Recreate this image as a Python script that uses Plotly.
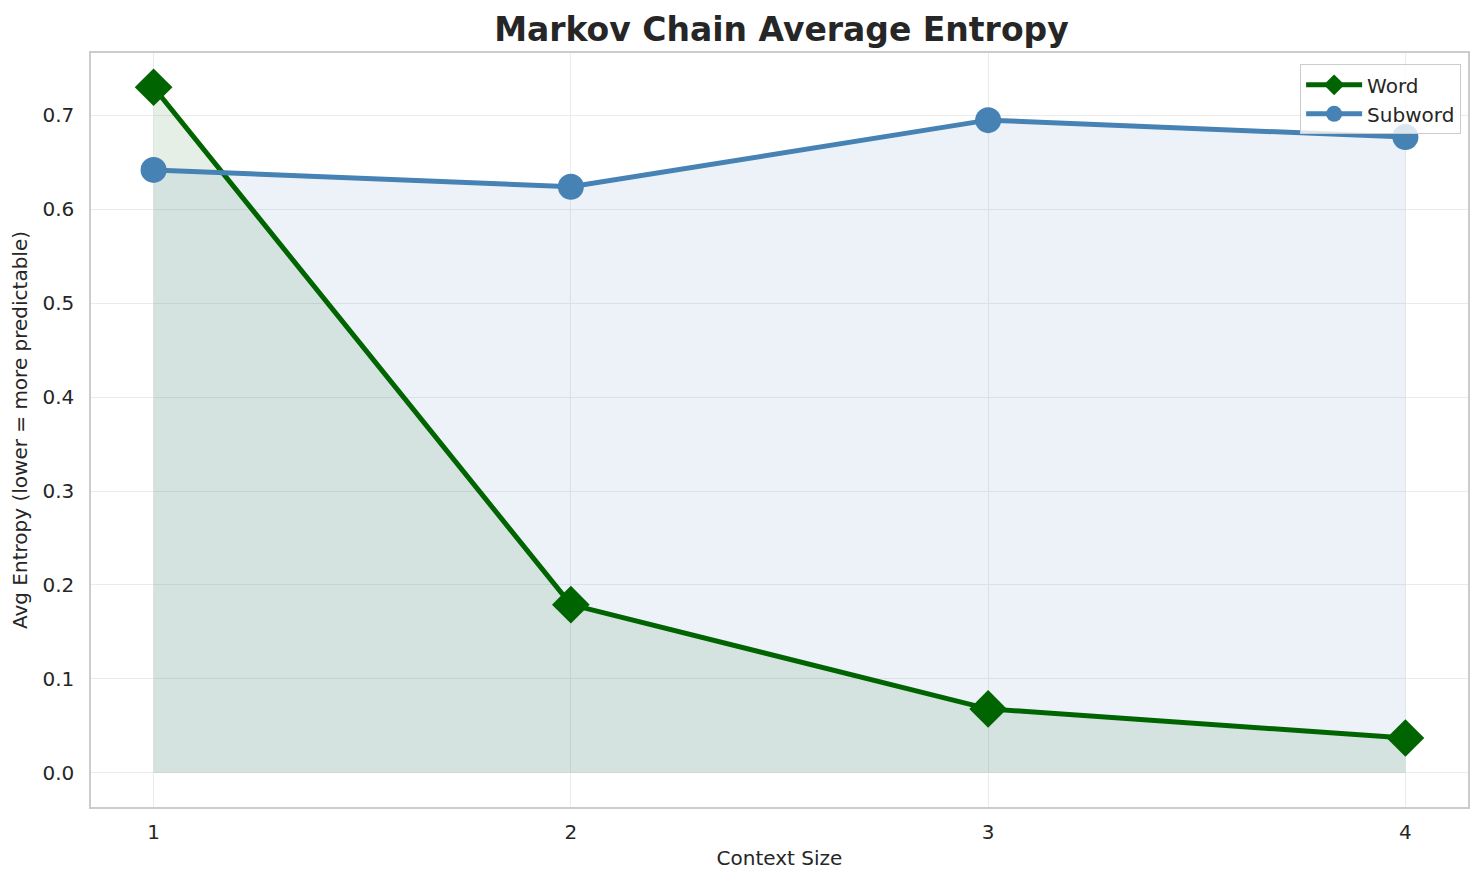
import plotly.graph_objects as go

# Markov chain average entropy by context size
context_sizes = [1, 2, 3, 4]
word_entropy = [0.730, 0.179, 0.068, 0.037]
subword_entropy = [0.642, 0.624, 0.695, 0.677]
y_ticks = [0.0, 0.1, 0.2, 0.3, 0.4, 0.5, 0.6, 0.7]

fig = go.Figure()

# shaded areas under each line
fig.add_trace(go.Scatter(x=context_sizes, y=word_entropy, fill="tozeroy",
                         fillcolor="rgba(0,100,0,0.1)", mode="none",
                         showlegend=False, hoverinfo="skip"))
fig.add_trace(go.Scatter(x=context_sizes, y=subword_entropy, fill="tozeroy",
                         fillcolor="rgba(70,130,180,0.1)", mode="none",
                         showlegend=False, hoverinfo="skip"))

fig.add_trace(go.Scatter(x=context_sizes, y=word_entropy, name="Word",
                         mode="lines+markers",
                         line=dict(color="darkgreen", width=5),
                         marker=dict(symbol="diamond", size=29, color="darkgreen")))
fig.add_trace(go.Scatter(x=context_sizes, y=subword_entropy, name="Subword",
                         mode="lines+markers",
                         line=dict(color="steelblue", width=5),
                         marker=dict(symbol="circle", size=26, color="steelblue")))

fig.update_xaxes(title_text="Context Size", range=[0.85, 4.15],
                 tickvals=context_sizes, ticktext=["1", "2", "3", "4"],
                 showgrid=True, gridcolor="#ebebeb", zeroline=False,
                 showline=True, linecolor="#cccccc", linewidth=1.5, mirror=True,
                 ticks="", ticklabelstandoff=6,
                 tickfont=dict(size=20, color="#262626"),
                 title_font=dict(size=20, color="#262626"), title_standoff=8)
fig.update_yaxes(title_text="Avg Entropy (lower = more predictable)",
                 range=[-0.0365, 0.7665], tickvals=y_ticks,
                 ticktext=[f"{v:.1f}" for v in y_ticks],
                 showgrid=True, gridcolor="#ebebeb", zeroline=False,
                 showline=True, linecolor="#cccccc", linewidth=1.5, mirror=True,
                 ticks="", ticklabelstandoff=11,
                 tickfont=dict(size=20, color="#262626"),
                 title_font=dict(size=20, color="#262626"), title_standoff=9)

# the page body adds an 8px offset, so the figure is a little smaller
fig.update_layout(width=1476, height=877,
                  margin=dict(l=83, r=16, t=45, b=78),
                  plot_bgcolor="white", paper_bgcolor="white",
                  font=dict(family="DejaVu Sans", color="#262626"),
                  title=dict(text="<b>Markov Chain Average Entropy</b>",
                             x=0.524, xanchor="center", y=0.975, yanchor="middle",
                             font=dict(size=33, color="#262626")),
                  legend=dict(x=0.995, y=0.985, xanchor="right", yanchor="top",
                              bgcolor="rgba(255,255,255,0.8)", bordercolor="#cccccc",
                              borderwidth=1, itemwidth=56,
                              font=dict(size=20, color="#262626")),
                  showlegend=True)

fig.write_html("out.html")
